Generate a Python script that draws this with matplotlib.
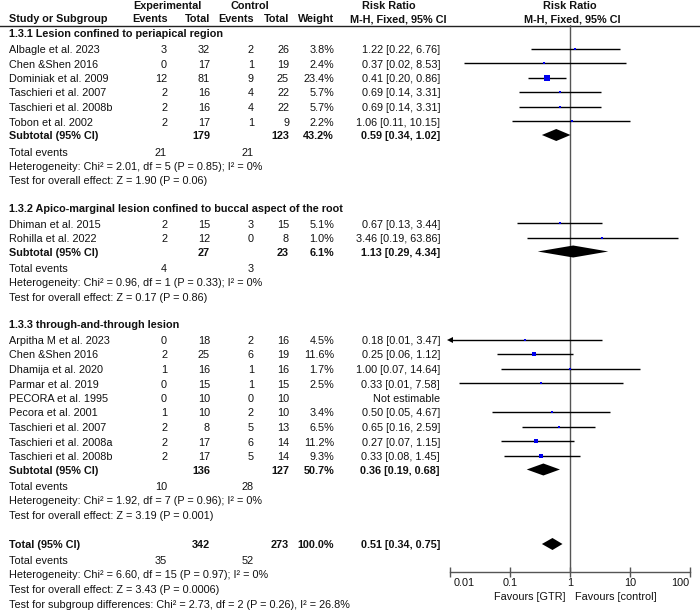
import matplotlib
matplotlib.use("Agg")
import matplotlib.pyplot as plt
import matplotlib.transforms as mtransforms
import numpy as np

plt.rcParams['font.family'] = ['Liberation Sans', 'DejaVu Sans']
FS = 7.85

# ---------------- data ----------------
group_titles = ["1.3.1 Lesion confined to periapical region",
                "1.3.2 Apico-marginal lesion confined to buccal aspect of the root",
                "1.3.3 through-and-through lesion"]

g1_names = ["Albagle et al. 2023", "Chen &Shen 2016", "Dominiak et al. 2009",
            "Taschieri et al. 2007", "Taschieri et al. 2008b", "Tobon et al. 2002"]
g1_exp_ev = [3, 0, 12, 2, 2, 2]
g1_exp_n = [32, 17, 81, 16, 16, 17]
g1_ctl_ev = [2, 1, 9, 4, 4, 1]
g1_ctl_n = [26, 19, 25, 22, 22, 9]
g1_weight = [3.8, 2.4, 23.4, 5.7, 5.7, 2.2]
g1_rr = [1.22, 0.37, 0.41, 0.69, 0.69, 1.06]
g1_lo = [0.22, 0.017, 0.20, 0.14, 0.14, 0.11]
g1_hi = [6.76, 8.53, 0.86, 3.31, 3.31, 10.15]

g2_names = ["Dhiman et al. 2015", "Rohilla et al. 2022"]
g2_exp_ev = [2, 2]
g2_exp_n = [15, 12]
g2_ctl_ev = [3, 0]
g2_ctl_n = [15, 8]
g2_weight = [5.1, 1.0]
g2_rr = [0.67, 3.46]
g2_lo = [0.13, 0.19]
g2_hi = [3.44, 63.86]

g3_names = ["Arpitha M et al. 2023", "Chen &Shen 2016", "Dhamija et al. 2020",
            "Parmar et al. 2019", "PECORA et al. 1995", "Pecora et al. 2001",
            "Taschieri et al. 2007", "Taschieri et al. 2008a", "Taschieri et al. 2008b"]
g3_exp_ev = [0, 2, 1, 0, 0, 1, 2, 2, 2]
g3_exp_n = [18, 25, 16, 15, 10, 10, 8, 17, 17]
g3_ctl_ev = [2, 6, 1, 1, 0, 2, 5, 6, 5]
g3_ctl_n = [16, 19, 16, 15, 10, 10, 13, 14, 14]
g3_weight = [4.5, 11.6, 1.7, 2.5, None, 3.4, 6.5, 11.2, 9.3]
g3_rr = [0.18, 0.25, 1.00, 0.33, None, 0.50, 0.65, 0.27, 0.33]
g3_lo = [0.009, 0.06, 0.07, 0.014, None, 0.05, 0.16, 0.07, 0.08]
g3_hi = [3.47, 1.12, 14.64, 7.58, None, 4.67, 2.59, 1.15, 1.45]

sub_exp_n = [179, 27, 136]
sub_ctl_n = [123, 23, 127]
sub_weight = [43.2, 6.1, 50.7]
sub_rr = [0.59, 1.13, 0.36]
sub_lo = [0.34, 0.29, 0.19]
sub_hi = [1.02, 4.34, 0.68]
sub_exp_events = [21, 4, 10]
sub_ctl_events = [21, 3, 28]
sub_het = ["Heterogeneity: Chi² = 2.01, df = 5 (P = 0.85); I² = 0%",
           "Heterogeneity: Chi² = 0.96, df = 1 (P = 0.33); I² = 0%",
           "Heterogeneity: Chi² = 1.92, df = 7 (P = 0.96); I² = 0%"]
sub_test = ["Test for overall effect: Z = 1.90 (P = 0.06)",
            "Test for overall effect: Z = 0.17 (P = 0.86)",
            "Test for overall effect: Z = 3.19 (P = 0.001)"]

tot_exp_n, tot_ctl_n, tot_weight = 342, 273, 100.0
tot_rr, tot_lo, tot_hi = 0.51, 0.34, 0.75
tot_exp_events, tot_ctl_events = 35, 52
tot_het = "Heterogeneity: Chi² = 6.60, df = 15 (P = 0.97); I² = 0%"
tot_test = "Test for overall effect: Z = 3.43 (P = 0.0006)"
tot_subgroup = "Test for subgroup differences: Chi² = 2.73, df = 2 (P = 0.26), I² = 26.8%"

xticks = [0.01, 0.1, 1, 10, 100]
xtick_labels = ["0.01", "0.1", "1", "10", "100"]
fav_left = "Favours [GTR]"
fav_right = "Favours [control]"

groups = [
    (g1_names, g1_exp_ev, g1_exp_n, g1_ctl_ev, g1_ctl_n, g1_weight, g1_rr, g1_lo, g1_hi),
    (g2_names, g2_exp_ev, g2_exp_n, g2_ctl_ev, g2_ctl_n, g2_weight, g2_rr, g2_lo, g2_hi),
    (g3_names, g3_exp_ev, g3_exp_n, g3_ctl_ev, g3_ctl_n, g3_weight, g3_rr, g3_lo, g3_hi),
]

# ---------------- layout (pixels) ----------------
W, H = 700, 612
X_NAME, X_EEV, X_EN, X_CEV, X_CN, X_W, X_RR = 9, 167, 210, 254, 289, 334, 440
PX_L, PX_R = 450, 690     # forest panel x extent
PY_T, PY_B = 25, 572      # forest panel y extent
STEP = 14.5

fig = plt.figure(figsize=(W / 100, H / 100), dpi=100)
bg = fig.add_axes([0, 0, 1, 1])
bg.set_xlim(0, W)
bg.set_ylim(H, 0)
bg.axis('off')

fa = fig.add_axes([PX_L / W, 1 - PY_B / H, (PX_R - PX_L) / W, (PY_B - PY_T) / H])
fa.set_xscale('log')
fa.set_xlim(0.01, 100)
fa.set_ylim(PY_B, PY_T)
fa.patch.set_alpha(0)
for s in ['top', 'left', 'right']:
    fa.spines[s].set_visible(False)
fa.spines['bottom'].set_color('#555555')
fa.spines['bottom'].set_linewidth(1.0)
fa.set_yticks([])
fa.set_xticks(xticks)
fa.set_xticklabels(xtick_labels, fontsize=FS)
fa.xaxis.set_minor_locator(matplotlib.ticker.NullLocator())
fa.tick_params(axis='x', direction='inout', length=7, width=1, color='#555555', pad=1, labelcolor='#111111')
tl = fa.get_xticklabels()
tl[0].set_ha('left')
tl[0].set_transform(tl[0].get_transform() + mtransforms.ScaledTranslation(4 / 100, 0, fig.dpi_scale_trans))
tl[-1].set_ha('right')
tl[-1].set_transform(tl[-1].get_transform() + mtransforms.ScaledTranslation(-1 / 100, 0, fig.dpi_scale_trans))
fa.axvline(1, color='#555555', lw=1.0, zorder=1)

TXT = '#111111'

def t(x, y, s, ha='left', bold=False):
    bg.text(x, y, s, ha=ha, va='center', fontsize=FS, color=TXT,
            fontweight='bold' if bold else 'normal')

# headers
t(167, 6, "Experimental", 'center', True)
t(250, 6, "Control", 'center', True)
t(389, 6, "Risk Ratio", 'center', True)
t(570, 6, "Risk Ratio", 'center', True)
t(X_NAME, 19, "Study or Subgroup", 'left', True)
t(X_EEV + 1, 19, "Events", 'right', True)
t(X_EN, 19, "Total", 'right', True)
t(X_CEV, 19, "Events", 'right', True)
t(X_CN, 19, "Total", 'right', True)
t(X_W, 19, "Weight", 'right', True)
t(398, 19, "M-H, Fixed, 95% CI", 'center', True)
t(572, 19, "M-H, Fixed, 95% CI", 'center', True)
bg.plot([0, W], [25.5, 25.5], color='#222222', lw=1.0)

DIA_H = 12

def diamond(y, est, lo, hi):
    fa.fill([lo, est, hi, est], [y, y - DIA_H / 2, y, y + DIA_H / 2],
            color='black', lw=0, zorder=3, clip_on=False)

y = 34
gaps_after_test = [27, 27, 29]
for gi, g in enumerate(groups):
    names, eev, en, cev, cn, wt, rr, lo, hi = g
    t(X_NAME, y, group_titles[gi], 'left', True)
    y += 16
    for i in range(len(names)):
        t(X_NAME, y, names[i])
        t(X_EEV, y, str(eev[i]), 'right')
        t(X_EN, y, str(en[i]), 'right')
        t(X_CEV, y, str(cev[i]), 'right')
        t(X_CN, y, str(cn[i]), 'right')
        if rr[i] is None:
            t(X_RR, y, "Not estimable", 'right')
        else:
            t(X_W, y, f"{wt[i]:.1f}%", 'right')
            t(X_RR, y, f"{rr[i]:.2f} [{lo[i]:.2f}, {hi[i]:.2f}]", 'right')
            ym = y - 1.5
            left = max(lo[i], 0.01)
            fa.plot([left, hi[i]], [ym, ym], color='black', lw=1.0, zorder=2,
                    solid_capstyle='butt', clip_on=False)
            if lo[i] < 0.01:
                fa.plot([0.01], [ym], marker='<', color='black', ms=4.5,
                        mew=0, zorder=3, clip_on=False)
            side = max(2.2, 1.1 * np.sqrt(wt[i]))
            fa.plot([rr[i]], [ym], marker='s', color='#0000ee', ms=side * 0.72,
                    mew=0, zorder=4, clip_on=False)
        y += STEP
    y -= 1
    t(X_NAME, y, "Subtotal (95% CI)", 'left', True)
    t(X_EN, y, str(sub_exp_n[gi]), 'right', True)
    t(X_CN, y, str(sub_ctl_n[gi]), 'right', True)
    t(X_W, y, f"{sub_weight[gi]:.1f}%", 'right', True)
    t(X_RR, y, f"{sub_rr[gi]:.2f} [{sub_lo[gi]:.2f}, {sub_hi[gi]:.2f}]", 'right', True)
    diamond(y - 1, sub_rr[gi], sub_lo[gi], sub_hi[gi])
    y += 16.5
    t(X_NAME, y, "Total events")
    t(X_EEV, y, str(sub_exp_events[gi]), 'right')
    t(X_CEV, y, str(sub_ctl_events[gi]), 'right')
    y += STEP
    t(X_NAME, y, sub_het[gi])
    y += STEP
    t(X_NAME, y, sub_test[gi])
    y += gaps_after_test[gi]

# overall
t(X_NAME, y, "Total (95% CI)", 'left', True)
t(X_EN, y, str(tot_exp_n), 'right', True)
t(X_CN, y, str(tot_ctl_n), 'right', True)
t(X_W, y, f"{tot_weight:.1f}%", 'right', True)
t(X_RR, y, f"{tot_rr:.2f} [{tot_lo:.2f}, {tot_hi:.2f}]", 'right', True)
diamond(y - 1, tot_rr, tot_lo, tot_hi)
y += 16
t(X_NAME, y, "Total events")
t(X_EEV, y, str(tot_exp_events), 'right')
t(X_CEV, y, str(tot_ctl_events), 'right')
y += STEP
t(X_NAME, y, tot_het)
y += STEP
t(X_NAME, y, tot_test)
y += STEP
t(X_NAME, y, tot_subgroup)

# favours labels
t(566, 597, fav_left, 'right')
t(575, 597, fav_right, 'left')

fig.savefig("out.png", dpi=100)
